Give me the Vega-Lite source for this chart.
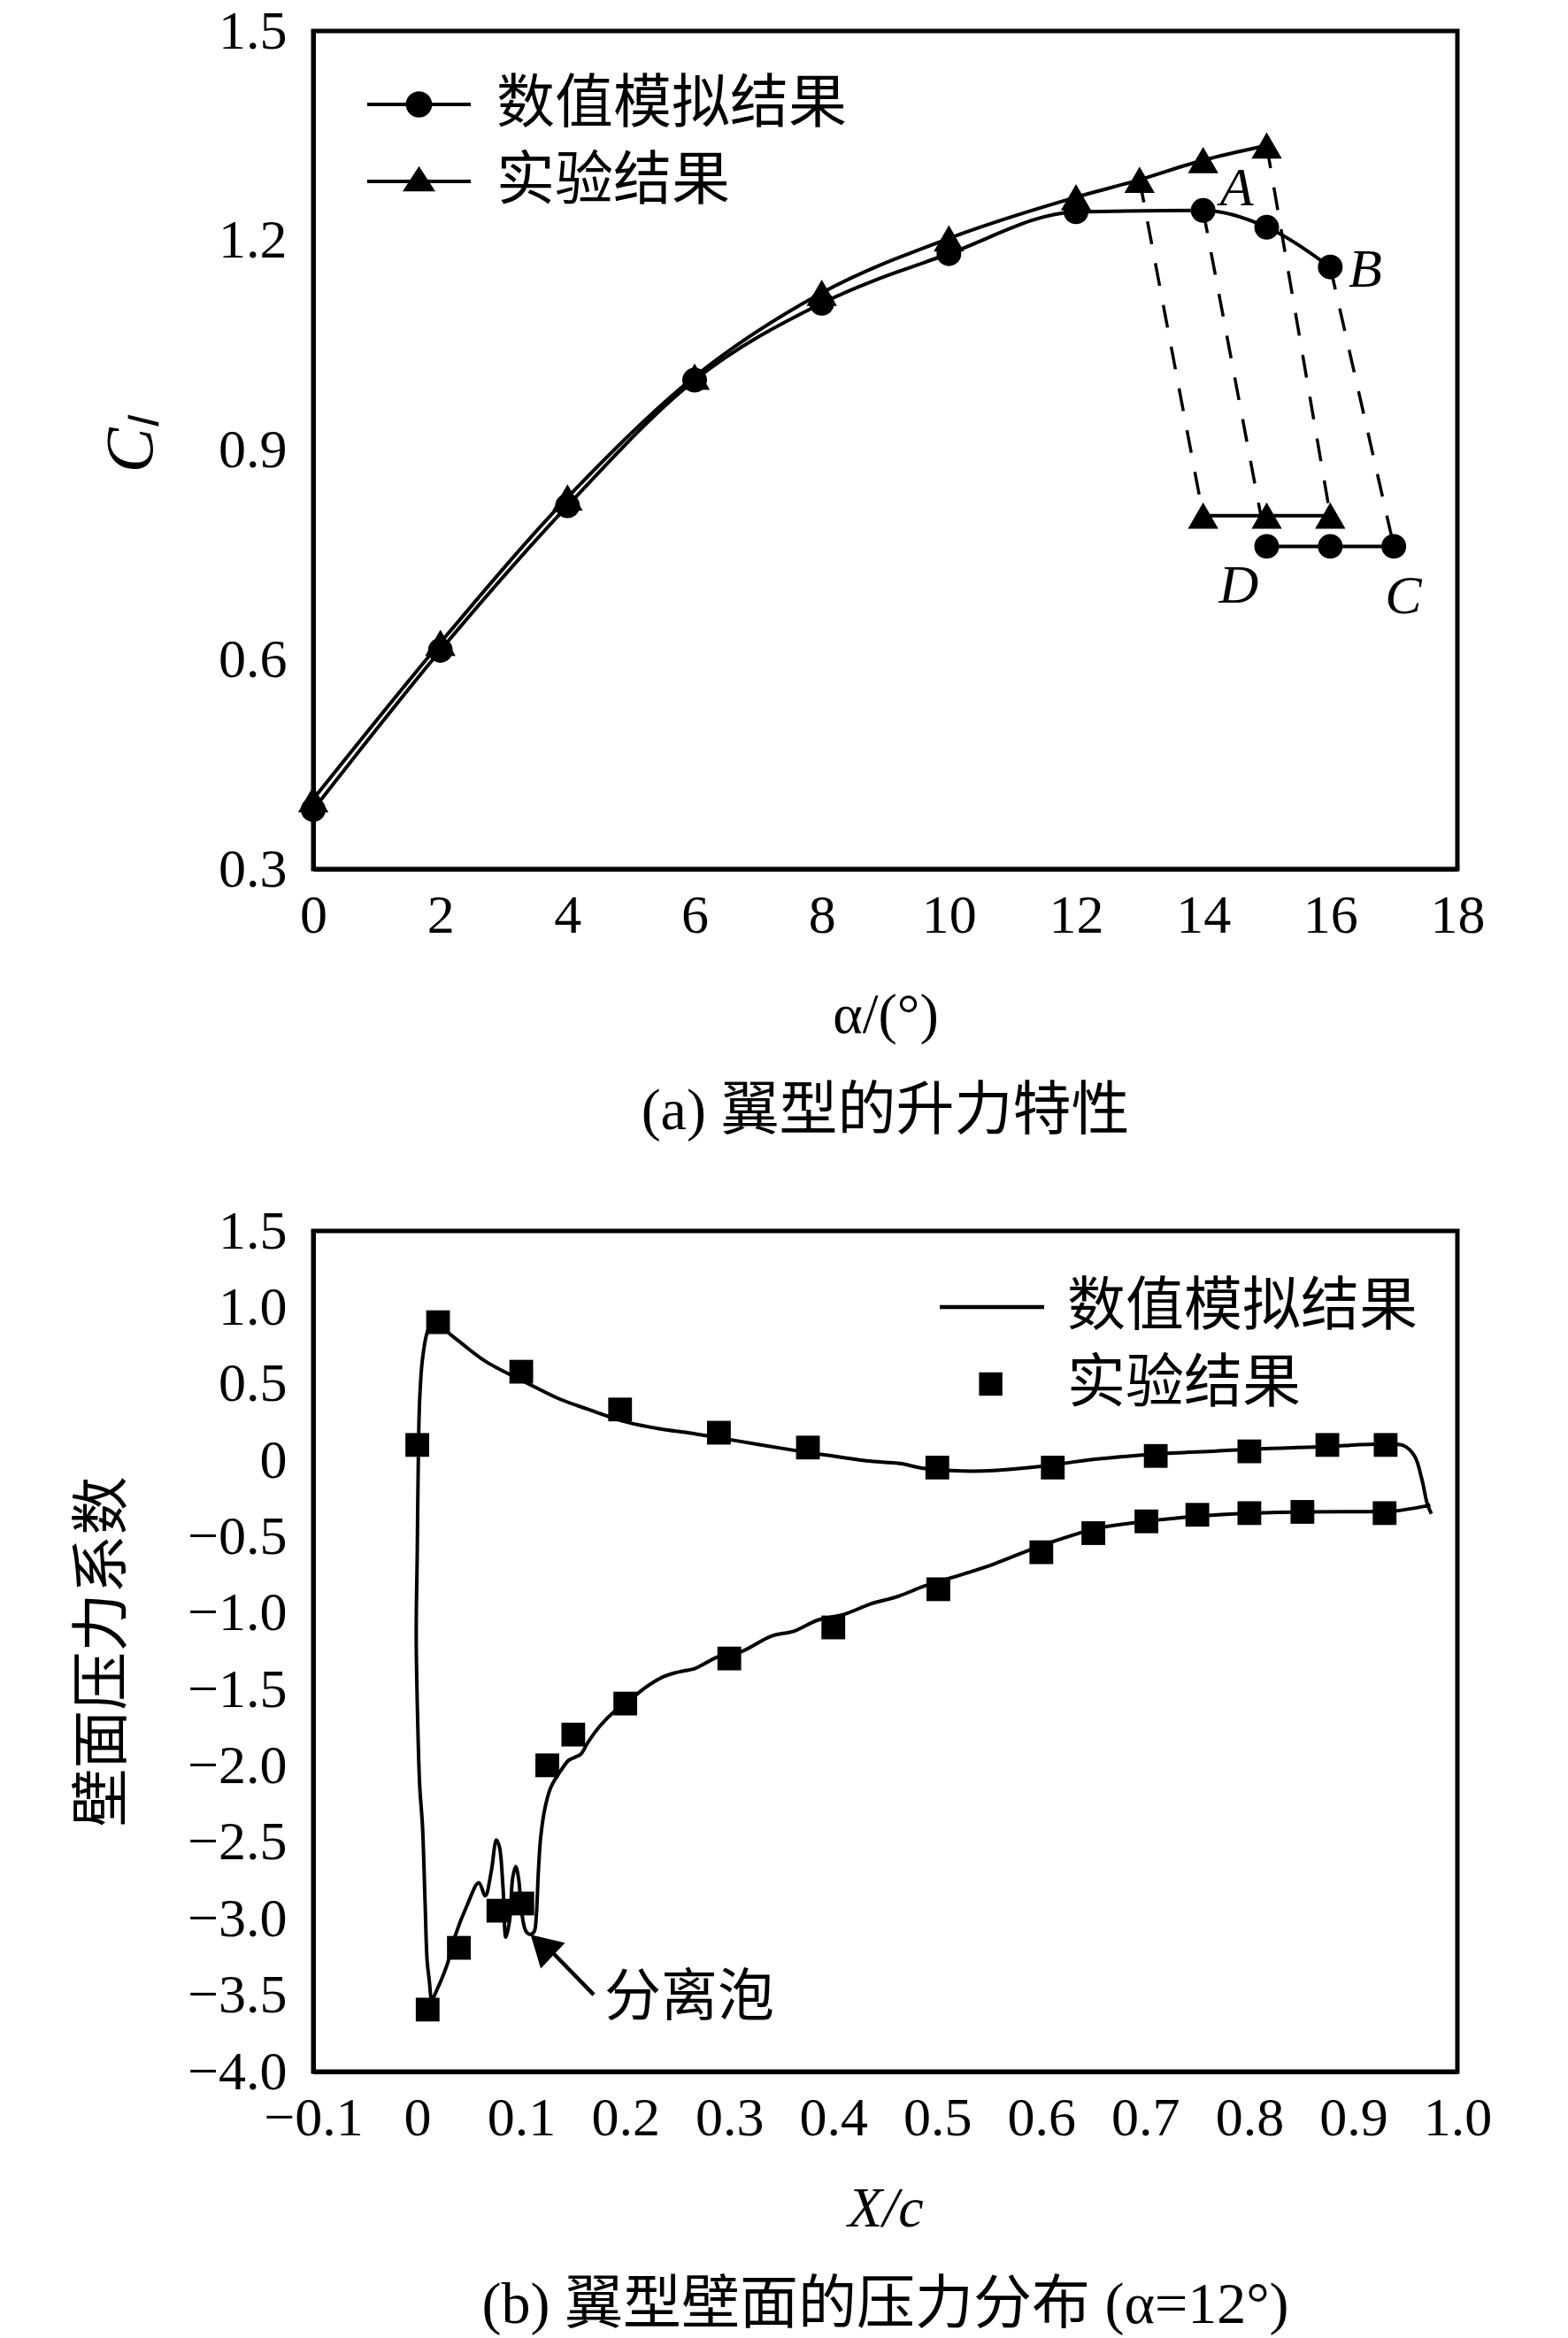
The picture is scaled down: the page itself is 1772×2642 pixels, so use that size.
{
  "$schema": "https://vega.github.io/schema/vega-lite/v6.json",
  "background": "white",
  "padding": {"left": 80, "top": 1, "right": 30, "bottom": 20},
  "spacing": 65,
  "resolve": {"scale": {"shape": "independent"}, "legend": {"shape": "independent"}},
  "datasets": {
    "lift": [
      {"alpha": 0, "cl": 0.385, "series": "数值模拟结果", "seg": "num-up"},
      {"alpha": 2, "cl": 0.613, "series": "数值模拟结果", "seg": "num-up"},
      {"alpha": 4, "cl": 0.82, "series": "数值模拟结果", "seg": "num-up"},
      {"alpha": 6, "cl": 1.0, "series": "数值模拟结果", "seg": "num-up"},
      {"alpha": 8, "cl": 1.11, "series": "数值模拟结果", "seg": "num-up"},
      {"alpha": 10, "cl": 1.181, "series": "数值模拟结果", "seg": "num-up"},
      {"alpha": 12, "cl": 1.241, "series": "数值模拟结果", "seg": "num-up"},
      {"alpha": 14, "cl": 1.243, "series": "数值模拟结果", "seg": "num-up"},
      {"alpha": 15, "cl": 1.219, "series": "数值模拟结果", "seg": "num-up"},
      {"alpha": 16, "cl": 1.162, "series": "数值模拟结果", "seg": "num-up"},
      {"alpha": 15, "cl": 0.762, "series": "数值模拟结果", "seg": "num-low"},
      {"alpha": 16, "cl": 0.762, "series": "数值模拟结果", "seg": "num-low"},
      {"alpha": 17, "cl": 0.762, "series": "数值模拟结果", "seg": "num-low"},
      {"alpha": 0, "cl": 0.4, "series": "实验结果", "seg": "exp-up"},
      {"alpha": 2, "cl": 0.624, "series": "实验结果", "seg": "exp-up"},
      {"alpha": 4, "cl": 0.832, "series": "实验结果", "seg": "exp-up"},
      {"alpha": 6, "cl": 1.005, "series": "实验结果", "seg": "exp-up"},
      {"alpha": 8, "cl": 1.125, "series": "实验结果", "seg": "exp-up"},
      {"alpha": 10, "cl": 1.203, "series": "实验结果", "seg": "exp-up"},
      {"alpha": 12, "cl": 1.262, "series": "实验结果", "seg": "exp-up"},
      {"alpha": 13, "cl": 1.287, "series": "实验结果", "seg": "exp-up"},
      {"alpha": 14, "cl": 1.315, "series": "实验结果", "seg": "exp-up"},
      {"alpha": 15, "cl": 1.336, "series": "实验结果", "seg": "exp-up"},
      {"alpha": 14, "cl": 0.806, "series": "实验结果", "seg": "exp-low"},
      {"alpha": 15, "cl": 0.806, "series": "实验结果", "seg": "exp-low"},
      {"alpha": 16, "cl": 0.806, "series": "实验结果", "seg": "exp-low"}
    ],
    "dash": [
      {"alpha": 13, "cl": 1.287, "grp": "g1"},
      {"alpha": 14, "cl": 0.806, "grp": "g1"},
      {"alpha": 14, "cl": 1.243, "grp": "g2"},
      {"alpha": 15, "cl": 0.762, "grp": "g2"},
      {"alpha": 15, "cl": 1.336, "grp": "g3"},
      {"alpha": 16, "cl": 0.806, "grp": "g3"},
      {"alpha": 16, "cl": 1.162, "grp": "g4"},
      {"alpha": 17, "cl": 0.762, "grp": "g4"}
    ],
    "letters": [
      {"alpha": 14.53, "cl": 1.275, "label": "A"},
      {"alpha": 16.55, "cl": 1.158, "label": "B"},
      {"alpha": 17.15, "cl": 0.69, "label": "C"},
      {"alpha": 14.56, "cl": 0.705, "label": "D"}
    ],
    "cp_sim": [
      {"i": 1, "xc": 0.975, "cp": -0.351},
      {"i": 2, "xc": 0.971, "cp": -0.284},
      {"i": 3, "xc": 0.966, "cp": -0.129},
      {"i": 4, "xc": 0.959, "cp": 0.025},
      {"i": 5, "xc": 0.949, "cp": 0.093},
      {"i": 6, "xc": 0.93, "cp": 0.106},
      {"i": 7, "xc": 0.867, "cp": 0.087},
      {"i": 8, "xc": 0.803, "cp": 0.073},
      {"i": 9, "xc": 0.768, "cp": 0.06},
      {"i": 10, "xc": 0.71, "cp": 0.04},
      {"i": 11, "xc": 0.651, "cp": 0.006},
      {"i": 12, "xc": 0.598, "cp": -0.042},
      {"i": 13, "xc": 0.554, "cp": -0.068},
      {"i": 14, "xc": 0.525, "cp": -0.071},
      {"i": 15, "xc": 0.485, "cp": -0.052},
      {"i": 16, "xc": 0.466, "cp": -0.023},
      {"i": 17, "xc": 0.432, "cp": -0.004},
      {"i": 18, "xc": 0.402, "cp": 0.025},
      {"i": 19, "xc": 0.376, "cp": 0.05},
      {"i": 20, "xc": 0.329, "cp": 0.102},
      {"i": 21, "xc": 0.295, "cp": 0.141},
      {"i": 22, "xc": 0.26, "cp": 0.18},
      {"i": 23, "xc": 0.235, "cp": 0.203},
      {"i": 24, "xc": 0.201, "cp": 0.25},
      {"i": 25, "xc": 0.164, "cp": 0.334},
      {"i": 26, "xc": 0.137, "cp": 0.4},
      {"i": 27, "xc": 0.107, "cp": 0.5},
      {"i": 28, "xc": 0.066, "cp": 0.645},
      {"i": 29, "xc": 0.0435, "cp": 0.76},
      {"i": 30, "xc": 0.028, "cp": 0.845},
      {"i": 31, "xc": 0.02, "cp": 0.9},
      {"i": 32, "xc": 0.0137, "cp": 0.89},
      {"i": 33, "xc": 0.0095, "cp": 0.835},
      {"i": 34, "xc": 0.005, "cp": 0.66},
      {"i": 35, "xc": 0.0024, "cp": 0.41},
      {"i": 36, "xc": 0.0012, "cp": 0.1},
      {"i": 37, "xc": 0.0, "cp": -0.6},
      {"i": 38, "xc": -0.001, "cp": -1.15},
      {"i": 39, "xc": 0.0005, "cp": -1.73},
      {"i": 40, "xc": 0.0024, "cp": -2.137},
      {"i": 41, "xc": 0.005, "cp": -2.39},
      {"i": 42, "xc": 0.0075, "cp": -2.89},
      {"i": 43, "xc": 0.0095, "cp": -3.276},
      {"i": 44, "xc": 0.0115, "cp": -3.4},
      {"i": 45, "xc": 0.014, "cp": -3.53},
      {"i": 46, "xc": 0.016, "cp": -3.51},
      {"i": 47, "xc": 0.0194, "cp": -3.457},
      {"i": 48, "xc": 0.0237, "cp": -3.39},
      {"i": 49, "xc": 0.029, "cp": -3.295},
      {"i": 50, "xc": 0.036, "cp": -3.12},
      {"i": 51, "xc": 0.048, "cp": -2.91},
      {"i": 52, "xc": 0.0591, "cp": -2.764},
      {"i": 53, "xc": 0.0654, "cp": -2.85},
      {"i": 54, "xc": 0.071, "cp": -2.697},
      {"i": 55, "xc": 0.0761, "cp": -2.484},
      {"i": 56, "xc": 0.079, "cp": -2.53},
      {"i": 57, "xc": 0.0824, "cp": -2.79},
      {"i": 58, "xc": 0.0852, "cp": -3.12},
      {"i": 59, "xc": 0.0889, "cp": -3.005},
      {"i": 60, "xc": 0.0917, "cp": -2.735},
      {"i": 61, "xc": 0.0946, "cp": -2.658},
      {"i": 62, "xc": 0.0974, "cp": -2.735},
      {"i": 63, "xc": 0.1002, "cp": -2.947},
      {"i": 64, "xc": 0.1045, "cp": -3.082},
      {"i": 65, "xc": 0.1087, "cp": -3.102},
      {"i": 66, "xc": 0.1125, "cp": -3.082},
      {"i": 67, "xc": 0.1144, "cp": -2.986},
      {"i": 68, "xc": 0.1164, "cp": -2.697},
      {"i": 69, "xc": 0.1187, "cp": -2.465},
      {"i": 70, "xc": 0.1229, "cp": -2.272},
      {"i": 71, "xc": 0.1286, "cp": -2.137},
      {"i": 72, "xc": 0.1371, "cp": -2.04},
      {"i": 73, "xc": 0.1456, "cp": -1.963},
      {"i": 74, "xc": 0.1513, "cp": -1.944},
      {"i": 75, "xc": 0.157, "cp": -1.925},
      {"i": 76, "xc": 0.164, "cp": -1.847},
      {"i": 77, "xc": 0.1754, "cp": -1.741},
      {"i": 78, "xc": 0.1895, "cp": -1.644},
      {"i": 79, "xc": 0.201, "cp": -1.587},
      {"i": 80, "xc": 0.2208, "cp": -1.48},
      {"i": 81, "xc": 0.2378, "cp": -1.413},
      {"i": 82, "xc": 0.2548, "cp": -1.38},
      {"i": 83, "xc": 0.2661, "cp": -1.365},
      {"i": 84, "xc": 0.2775, "cp": -1.326},
      {"i": 85, "xc": 0.2888, "cp": -1.287},
      {"i": 86, "xc": 0.3115, "cp": -1.252},
      {"i": 87, "xc": 0.34, "cp": -1.152},
      {"i": 88, "xc": 0.3626, "cp": -1.117},
      {"i": 89, "xc": 0.385, "cp": -1.046},
      {"i": 90, "xc": 0.4107, "cp": -1.0075},
      {"i": 91, "xc": 0.436, "cp": -0.94},
      {"i": 92, "xc": 0.4618, "cp": -0.892},
      {"i": 93, "xc": 0.4873, "cp": -0.824},
      {"i": 94, "xc": 0.524, "cp": -0.747},
      {"i": 95, "xc": 0.554, "cp": -0.68},
      {"i": 96, "xc": 0.598, "cp": -0.563},
      {"i": 97, "xc": 0.632, "cp": -0.486},
      {"i": 98, "xc": 0.651, "cp": -0.448},
      {"i": 99, "xc": 0.7, "cp": -0.4},
      {"i": 100, "xc": 0.749, "cp": -0.367},
      {"i": 101, "xc": 0.798, "cp": -0.347},
      {"i": 102, "xc": 0.852, "cp": -0.338},
      {"i": 103, "xc": 0.915, "cp": -0.336},
      {"i": 104, "xc": 0.94, "cp": -0.332},
      {"i": 105, "xc": 0.974, "cp": -0.294}
    ],
    "cp_exp": [
      {"xc": 0.0, "cp": 0.1, "series": "实验结果"},
      {"xc": 0.02, "cp": 0.903, "series": "实验结果"},
      {"xc": 0.1, "cp": 0.579, "series": "实验结果"},
      {"xc": 0.195, "cp": 0.332, "series": "实验结果"},
      {"xc": 0.29, "cp": 0.18, "series": "实验结果"},
      {"xc": 0.3756, "cp": 0.083, "series": "实验结果"},
      {"xc": 0.5, "cp": -0.048, "series": "实验结果"},
      {"xc": 0.611, "cp": -0.048, "series": "实验结果"},
      {"xc": 0.71, "cp": 0.028, "series": "实验结果"},
      {"xc": 0.8, "cp": 0.058, "series": "实验结果"},
      {"xc": 0.875, "cp": 0.1, "series": "实验结果"},
      {"xc": 0.931, "cp": 0.1, "series": "实验结果"},
      {"xc": 0.01, "cp": -3.594, "series": "实验结果"},
      {"xc": 0.04, "cp": -3.19, "series": "实验结果"},
      {"xc": 0.078, "cp": -2.947, "series": "实验结果"},
      {"xc": 0.101, "cp": -2.9, "series": "实验结果"},
      {"xc": 0.125, "cp": -1.996, "series": "实验结果"},
      {"xc": 0.15, "cp": -1.795, "series": "实验结果"},
      {"xc": 0.2, "cp": -1.592, "series": "实验结果"},
      {"xc": 0.3, "cp": -1.297, "series": "实验结果"},
      {"xc": 0.4, "cp": -1.094, "series": "实验结果"},
      {"xc": 0.501, "cp": -0.844, "series": "实验结果"},
      {"xc": 0.6, "cp": -0.602, "series": "实验结果"},
      {"xc": 0.65, "cp": -0.477, "series": "实验结果"},
      {"xc": 0.701, "cp": -0.4, "series": "实验结果"},
      {"xc": 0.75, "cp": -0.357, "series": "实验结果"},
      {"xc": 0.8, "cp": -0.346, "series": "实验结果"},
      {"xc": 0.851, "cp": -0.338, "series": "实验结果"},
      {"xc": 0.93, "cp": -0.346, "series": "实验结果"}
    ],
    "arrow": [{"xc": 0.1697, "cp": -3.497, "xc2": 0.1306, "cp2": -3.224}],
    "arrowhead": [{"xc": 0.1197, "cp": -3.173}],
    "note": [{"xc": 0.2616, "cp": -3.52, "label": "分离泡"}]
  },
  "vconcat": [
    {
      "width": 1293,
      "height": 947,
      "title": {"text": "(a) 翼型的升力特性", "orient": "bottom", "frame": "group", "offset": 45},
      "encoding": {
        "x": {
          "field": "alpha", "type": "quantitative",
          "scale": {"domain": [0, 18], "nice": false, "zero": false},
          "axis": {
            "title": "α/(°)",
            "values": [0, 1, 2, 3, 4, 5, 6, 7, 8, 9, 10, 11, 12, 13, 14, 15, 16, 17, 18],
            "labelExpr": "datum.value % 2 == 0 ? datum.label : ''",
            "labelPadding": 22,
            "titleFont": "Liberation Serif",
            "titleFontSize": 64,
            "titleY": 165,
            "titleBaseline": "middle",
            "encode": {"ticks": {"y2": {"condition": {"test": "datum.value % 2 == 0", "value": -24}, "value": -14}}}
          }
        },
        "y": {
          "field": "cl", "type": "quantitative",
          "scale": {"domain": [0.3, 1.5], "nice": false, "zero": false},
          "axis": {
            "title": "Cₗ",
            "values": [0.3, 0.45, 0.6, 0.75, 0.9, 1.05, 1.2, 1.35, 1.5],
            "labelExpr": "abs(round(datum.value * 100) % 30) == 0 ? format(datum.value, '.1f') : ''",
            "labelPadding": 30,
            "titleFont": "Liberation Serif",
            "titleFontStyle": "italic",
            "titleFontSize": 76,
            "titleX": -206,
            "titleY": 467,
            "titleBaseline": "middle",
            "encode": {"ticks": {"x2": {"condition": {"test": "abs(round(datum.value * 100) % 30) == 0", "value": 24}, "value": 14}}}
          }
        }
      },
      "layer": [
        {
          "data": {"name": "dash"},
          "mark": {"type": "line", "color": "black", "strokeWidth": 3.5, "strokeDash": [26, 22]},
          "encoding": {"detail": {"field": "grp"}}
        },
        {
          "data": {"name": "lift"},
          "mark": {"type": "line", "color": "black", "strokeWidth": 4, "interpolate": "monotone"},
          "encoding": {"detail": {"field": "seg"}}
        },
        {
          "data": {"name": "lift"},
          "transform": [{"filter": "datum.series == '数值模拟结果'"}],
          "mark": {"type": "point", "shape": "circle", "filled": true, "color": "black", "opacity": 1, "size": 780}
        },
        {
          "data": {"name": "lift"},
          "transform": [{"filter": "datum.series == '实验结果'"}],
          "mark": {"type": "point", "shape": "triangle-up", "filled": true, "color": "black", "opacity": 1, "size": 1180}
        },
        {
          "data": {"name": "lift"},
          "mark": {"type": "point", "filled": true, "color": "black", "opacity": 0},
          "encoding": {
            "shape": {
              "field": "series", "type": "nominal",
              "scale": {
                "domain": ["数值模拟结果", "实验结果"],
                "range": [
                  "M-2.545,-0.058H1V0.058H-2.545Z M-0.323,0A0.45,0.45,0,1,1,-1.223,0A0.45,0.45,0,1,1,-0.323,0Z",
                  "M-2.545,-0.058H1V0.058H-2.545Z M-0.773,-0.52L-0.213,0.34H-1.333Z"
                ]
              },
              "legend": {"title": null, "orient": "none", "legendX": 112, "legendY": 50, "labelOffset": 29}
            }
          }
        },
        {
          "data": {"name": "letters"},
          "mark": {"type": "text", "font": "Liberation Serif", "fontStyle": "italic", "fontSize": 62, "color": "black", "align": "center", "baseline": "middle"},
          "encoding": {"text": {"field": "label"}}
        }
      ]
    },
    {
      "width": 1293,
      "height": 950,
      "title": {"text": "(b) 翼型壁面的压力分布 (α=12°)", "orient": "bottom", "frame": "group", "offset": 45},
      "encoding": {
        "x": {
          "field": "xc", "type": "quantitative",
          "scale": {"domain": [-0.1, 1.0], "nice": false, "zero": false},
          "axis": {
            "title": "X/c",
            "values": [-0.1, -0.05, 0, 0.05, 0.1, 0.15, 0.2, 0.25, 0.3, 0.35, 0.4, 0.45, 0.5, 0.55, 0.6, 0.65, 0.7, 0.75, 0.8, 0.85, 0.9, 0.95, 1.0],
            "labelExpr": "abs(round(datum.value * 100) % 10) == 0 ? (abs(datum.value) < 0.001 ? '0' : replace(format(datum.value, '.1f'), '-', '−')) : ''",
            "labelPadding": 22,
            "titleFont": "Liberation Serif",
            "titleFontStyle": "italic",
            "titleFontSize": 64,
            "titleY": 155,
            "titleBaseline": "middle",
            "encode": {"ticks": {"y2": {"value": -13}}}
          }
        },
        "y": {
          "field": "cp", "type": "quantitative",
          "scale": {"domain": [-4.0, 1.5], "nice": false, "zero": false},
          "axis": {
            "title": "壁面压力系数",
            "values": [-4, -3.75, -3.5, -3.25, -3, -2.75, -2.5, -2.25, -2, -1.75, -1.5, -1.25, -1, -0.75, -0.5, -0.25, 0, 0.25, 0.5, 0.75, 1, 1.25, 1.5],
            "labelExpr": "abs(round(datum.value * 100) % 50) == 0 ? (abs(datum.value) < 0.001 ? '0' : replace(format(datum.value, '.1f'), '-', '−')) : ''",
            "labelPadding": 30,
            "titleFont": "Noto Sans CJK SC",
            "titleFontSize": 66,
            "titleX": -238,
            "titleY": 475,
            "titleBaseline": "middle",
            "encode": {"ticks": {"x2": {"condition": {"test": "abs(round(datum.value * 100) % 50) == 0", "value": 25}, "value": 15}}}
          }
        }
      },
      "layer": [
        {
          "data": {"name": "cp_sim"},
          "mark": {"type": "line", "color": "black", "strokeWidth": 4, "interpolate": "catmull-rom"},
          "encoding": {"order": {"field": "i", "type": "quantitative"}}
        },
        {
          "data": {"name": "cp_exp"},
          "mark": {"type": "point", "shape": "square", "filled": true, "color": "black", "opacity": 1, "size": 720}
        },
        {
          "data": {"name": "cp_exp"},
          "mark": {"type": "point", "filled": true, "color": "black", "opacity": 0},
          "encoding": {
            "shape": {
              "field": "series", "type": "nominal",
              "scale": {
                "domain": ["数值模拟结果", "实验结果"],
                "range": ["M-2.576,-0.065H1V0.065H-2.576Z", "M-1.23,-0.4H-0.43V0.4H-1.23Z"]
              },
              "legend": {"title": null, "orient": "none", "legendX": 760, "legendY": 53, "labelOffset": 26}
            }
          }
        },
        {
          "data": {"name": "arrow"},
          "mark": {"type": "rule", "color": "black", "strokeWidth": 4.5},
          "encoding": {"x2": {"field": "xc2"}, "y2": {"field": "cp2"}}
        },
        {
          "data": {"name": "arrowhead"},
          "mark": {"type": "point", "shape": "triangle-up", "filled": true, "color": "black", "opacity": 1, "size": 1600, "angle": 313.4}
        },
        {
          "data": {"name": "note"},
          "mark": {"type": "text", "font": "Noto Sans CJK SC", "fontSize": 64, "color": "black", "align": "center", "baseline": "middle"},
          "encoding": {"text": {"field": "label"}}
        }
      ]
    }
  ],
  "config": {
    "view": {"stroke": "black", "strokeWidth": 5},
    "axis": {
      "grid": false,
      "domainColor": "black",
      "domainWidth": 5,
      "tickColor": "black",
      "tickWidth": 4,
      "tickSize": 0,
      "labelColor": "black",
      "labelFont": "Liberation Serif",
      "labelFontSize": 62,
      "labelFlush": false,
      "labelOverlap": false,
      "labelBound": false,
      "titleColor": "black",
      "titleFontWeight": "normal"
    },
    "legend": {
      "labelFont": "Noto Sans CJK SC",
      "labelFontSize": 66,
      "labelColor": "black",
      "labelLimit": 0,
      "padding": 0,
      "rowPadding": 21,
      "symbolSize": 4356,
      "symbolStrokeWidth": 0,
      "symbolFillColor": "black",
      "symbolStrokeColor": "black",
      "symbolOpacity": 1
    },
    "title": {
      "font": "Liberation Serif, Noto Sans CJK SC",
      "fontSize": 66,
      "fontWeight": "normal",
      "color": "black",
      "anchor": "middle"
    }
  }
}
